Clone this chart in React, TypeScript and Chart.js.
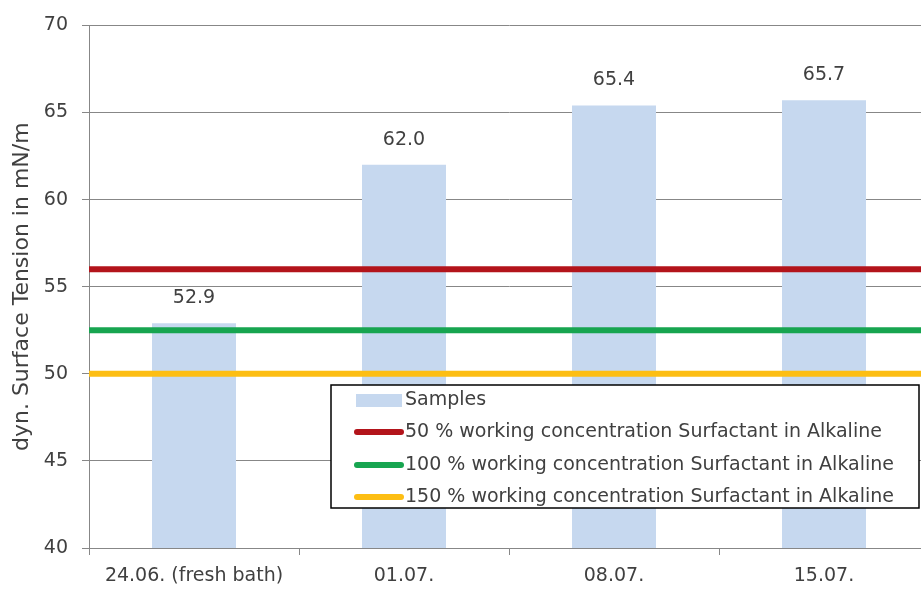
import React, { useEffect, useRef } from "react";
import { Chart, registerables } from "chart.js";

Chart.register(...registerables);

const categories = ["24.06. (fresh bath)", "01.07.", "08.07.", "15.07."];
const sampleLabel = "Samples";
const sampleValues = [52.9, 62.0, 65.4, 65.7];
const thresholdLabels = [
  "50 % working concentration Surfactant in Alkaline",
  "100 % working concentration Surfactant in Alkaline",
  "150 % working concentration Surfactant in Alkaline",
];
const thresholdValues = [56.0, 52.5, 50.0];
const thresholdColors = ["#b3141b", "#17a550", "#fdbe14"];
const barColor = "#c6d8ef";
const yMin = 40;
const yMax = 70;
const yStep = 5;
const yTitle = "dyn. Surface Tension in mN/m";

const FONT = "'DejaVu Sans', sans-serif";
const TEXT = "#404040";
const GRID = "#878787";

const dataLabelPlugin = {
  id: "dataLabels",
  afterDatasetsDraw(chart: any) {
    const ctx = chart.ctx;
    const meta = chart.getDatasetMeta(0);
    ctx.save();
    ctx.font = `19px ${FONT}`;
    ctx.fillStyle = TEXT;
    ctx.textAlign = "center";
    ctx.textBaseline = "middle";
    meta.data.forEach((bar: any, i: number) => {
      const v = chart.data.datasets[0].data[i] as number;
      ctx.fillText(v.toFixed(1), bar.x, bar.y - 25);
    });
    ctx.restore();
  },
};

const boxLegendPlugin = {
  id: "boxLegend",
  afterDraw(chart: any) {
    const ctx = chart.ctx;
    const bx = 331, by = 385, bw = 588, bh = 123;
    ctx.save();
    ctx.fillStyle = "#ffffff";
    ctx.fillRect(bx, by, bw, bh);
    ctx.strokeStyle = "#000000";
    ctx.lineWidth = 1.5;
    ctx.strokeRect(bx, by, bw, bh);
    ctx.font = `19px ${FONT}`;
    ctx.textAlign = "left";
    ctx.textBaseline = "middle";
    const rows = [400, 432, 465, 497];
    chart.data.datasets.forEach((ds: any, i: number) => {
      const y = rows[i];
      if (ds.type === "bar") {
        ctx.fillStyle = ds.backgroundColor;
        ctx.fillRect(356, y - 6, 46, 13);
      } else {
        ctx.strokeStyle = ds.borderColor;
        ctx.lineWidth = 6;
        ctx.lineCap = "round";
        ctx.beginPath();
        ctx.moveTo(357, y);
        ctx.lineTo(401, y);
        ctx.stroke();
      }
      ctx.fillStyle = TEXT;
      ctx.fillText(ds.label, 405, y);
    });
    ctx.restore();
  },
};

export default function App() {
  const ref = useRef<HTMLCanvasElement | null>(null);

  useEffect(() => {
    if (!ref.current) return;
    const datasets: any[] = [
      {
        type: "bar",
        label: sampleLabel,
        data: sampleValues,
        backgroundColor: barColor,
        borderWidth: 0,
        categoryPercentage: 1,
        barPercentage: 0.4,
        grouped: false,
        order: 1,
        xAxisID: "x",
        yAxisID: "y",
      },
      ...thresholdValues.map((v, i) => ({
        type: "line",
        label: thresholdLabels[i],
        data: [
          { x: 0, y: v },
          { x: 1, y: v },
        ],
        borderColor: thresholdColors[i],
        backgroundColor: thresholdColors[i],
        borderWidth: 6,
        pointRadius: 0,
        order: 0,
        xAxisID: "x2",
        yAxisID: "y",
      })),
    ];

    const chart = new Chart(ref.current, {
      type: "bar",
      data: { labels: categories, datasets },
      options: {
        responsive: false,
        animation: false,
        layout: { padding: { left: 0, right: 6, top: 24, bottom: 0 } },
        plugins: {
          legend: { display: false },
          tooltip: { enabled: false },
        },
        scales: {
          x: {
            type: "category",
            offset: true,
            grid: {
              display: true,
              drawOnChartArea: false,
              offset: true,
              tickLength: 7,
              color: GRID,
            },
            border: { display: true, color: GRID },
            ticks: {
              font: { family: FONT, size: 19 },
              color: TEXT,
              padding: 10,
              maxRotation: 0,
              autoSkip: false,
            },
            afterFit: (axis: any) => {
              axis.height = 41;
            },
          },
          x2: {
            type: "linear",
            axis: "x",
            display: false,
            offset: false,
            min: 0,
            max: 1,
            grid: { offset: false },
          },
          y: {
            min: yMin,
            max: yMax,
            ticks: {
              stepSize: yStep,
              font: { family: FONT, size: 19 },
              color: TEXT,
              padding: 14,
            },
            grid: { color: GRID, tickLength: 7 },
            border: { display: true, color: GRID },
            title: {
              display: true,
              text: yTitle,
              font: { family: FONT, size: 22 },
              color: TEXT,
              padding: { top: 9, bottom: 0 },
            },
            afterFit: (axis: any) => {
              axis.width = 89;
            },
          },
        },
      } as any,
      plugins: [dataLabelPlugin, boxLegendPlugin],
    });
    return () => chart.destroy();
  }, []);

  return (
    <div
      style={{
        position: "fixed",
        left: 0,
        top: 0,
        width: 921,
        height: 589,
        overflow: "hidden",
        background: "#ffffff",
      }}
    >
      <canvas ref={ref} width={935} height={589} style={{ display: "block" }} />
    </div>
  );
}
